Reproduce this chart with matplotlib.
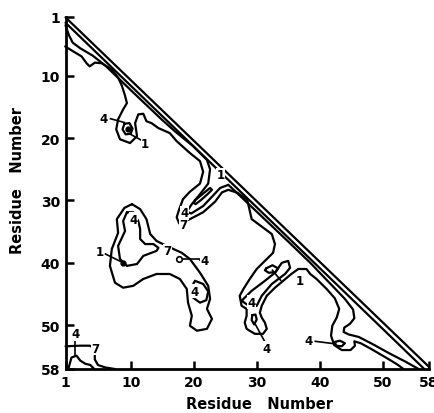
import matplotlib
matplotlib.use("Agg")
import matplotlib.pyplot as plt

# ---------------- data (residue units) ----------------
tick_values_x = [-0.35, 10, 20, 30, 40, 50, 57.35]
tick_values_y = [0.5, 10, 20, 30, 40, 50, 57.04]
tick_labels = ['1', '10', '20', '30', '40', '50', '58']

diag_x = [-0.35, 57.35]
diag_y = [0.64, 56.7]

line_b_x = [-0.35, 56.6]
line_b_y = [1.5, 57.04]

line_c_x = [-0.35, 0.2, 0.8, 2.0, 4.0, 6.0, 10.0, 15.0, 17.0, 19.9, 22.1, 22.6, 22.3, 21.0,
            19.7, 18.9, 19.6, 21.5, 23.0, 24.2, 25.5, 30.0, 35.0, 38.5, 40.1, 42.3, 44.0,
            45.3, 45.5, 44.8, 43.9, 43.8, 44.6, 46.2, 48.5, 51.0, 53.5, 55.7]
line_c_y = [1.9, 3.5, 4.7, 5.6, 6.8, 8.4, 12.3, 17.1, 18.9, 21.3, 23.5, 25.0, 27.3, 29.0,
            30.6, 31.8, 32.1, 30.9, 29.3, 28.0, 27.5, 31.8, 36.6, 40.0, 41.7, 44.0, 45.8,
            47.5, 48.9, 49.8, 50.4, 51.1, 51.5, 51.9, 53.1, 54.5, 55.8, 57.04]

line_d_x = [-0.4, 0.4, 2.2, 3.0, 3.5, 4.3, 5.4, 7.0, 8.0, 8.6, 9.1, 9.4, 8.8, 8.0, 7.7, 8.3,
            9.9, 11.0, 10.7, 11.2, 12.0, 12.5, 13.3, 14.4, 16.2, 17.3, 19.4, 21.0, 21.5, 21.0,
            19.4, 18.3, 17.7, 17.3, 17.7, 19.4, 21.5, 23.4, 24.5, 25.5, 27.0, 28.5, 29.2, 32.4,
            32.9, 32.6, 31.6, 30.0, 28.9, 27.9, 27.3, 27.6, 28.4, 28.4, 28.1, 28.4, 29.7, 31.0,
            31.6, 31.3, 30.8, 30.5, 30.8, 31.6, 32.9, 34.2, 35.5, 36.6, 37.9, 38.5, 39.5, 41.1,
            42.4, 43.1, 42.7, 42.0, 41.8, 42.3, 43.5, 44.9, 45.6, 45.5, 46.5, 48.3, 50.5, 52.3,
            53.3]
line_d_y = [5.3, 5.8, 6.9, 8.0, 8.5, 7.9, 8.0, 9.0, 10.3, 11.6, 13.2, 14.4, 15.4, 17.0, 18.6,
            20.2, 20.8, 19.7, 17.6, 16.2, 16.1, 17.3, 17.6, 18.4, 19.2, 20.5, 22.4, 23.7, 25.4,
            27.3, 28.6, 29.8, 31.4, 32.7, 33.7, 33.0, 31.9, 30.2, 28.7, 28.3, 28.8, 29.9, 33.0,
            35.4, 37.0, 38.4, 39.4, 41.0, 42.6, 44.2, 45.3, 46.9, 47.4, 48.5, 49.6, 50.6, 51.4,
            51.4, 50.6, 49.6, 48.8, 48.0, 46.9, 45.3, 44.0, 42.9, 41.8, 41.0, 41.0, 41.8, 42.6,
            44.2, 45.7, 47.4, 48.8, 50.1, 51.7, 53.2, 54.0, 54.0, 53.3, 52.6, 52.9, 53.9, 55.2,
            56.3, 57.04]

# inner "1" ring of the residue 10/18 contact
ring18_x = [9.0, 9.8, 10.3, 10.0, 9.2, 8.7, 9.0]
ring18_y = [17.7, 17.6, 18.5, 19.3, 19.4, 18.6, 17.7]

# inner loop in the 20/30 hairpin finger
hair_x = [20.2, 21.5, 22.6, 22.9, 22.3, 21.2, 20.3, 20.0, 20.2]
hair_y = [30.0, 28.9, 28.0, 28.3, 28.9, 29.9, 30.6, 30.4, 30.0]

# big left contact region (residues 5-25 vs 30-50), contour "7"
left7_x = [10.2, 11.5, 12.5, 13.1, 14.1, 15.7, 18.1, 19.4, 21.0, 22.3, 22.6, 22.1, 22.9,
           22.1, 20.5, 19.4, 19.7, 19.1, 18.9, 17.8, 16.2, 14.1, 12.0, 10.4, 8.8, 7.5, 6.7,
           7.0, 8.0, 7.8, 9.0, 10.2]
left7_y = [30.6, 31.4, 33.0, 35.4, 36.5, 37.3, 38.4, 39.4, 41.6, 43.7, 45.8, 47.4, 49.0,
           50.6, 50.9, 50.1, 48.5, 46.4, 44.2, 42.6, 41.8, 41.8, 42.6, 43.7, 44.0, 43.2, 40.5,
           37.8, 35.2, 33.0, 31.2, 30.6]
left4_x = [9.4, 8.8, 9.1, 8.6, 8.0, 8.3, 9.4, 11.0, 12.0, 13.3, 14.1, 14.4, 13.6, 12.3,
           11.5, 11.5, 11.2, 10.4, 9.4]
left4_y = [31.9, 33.3, 34.9, 36.0, 37.3, 39.4, 40.5, 40.2, 38.9, 38.4, 38.1, 37.6, 37.0,
           37.0, 36.2, 34.6, 33.3, 31.9, 31.9]
low4_x = [20.2, 21.5, 22.3, 22.0, 21.0, 19.9, 19.6, 20.2]
low4_y = [42.9, 43.4, 44.6, 46.0, 46.4, 45.6, 44.0, 42.9]

# right contact region inner contours
right4_x = [27.6, 29.2, 31.3, 32.9, 34.0, 35.0, 35.3, 34.5, 32.4, 30.8, 30.0, 29.2, 27.6]
right4_y = [46.1, 44.5, 42.9, 41.6, 40.0, 39.7, 40.8, 41.8, 43.4, 45.3, 46.9, 47.2, 46.1]
right1_x = [31.5, 32.5, 33.4, 33.0, 31.9, 31.3, 31.5]
right1_y = [40.9, 40.4, 40.9, 41.5, 41.6, 41.2, 40.9]
small0_x = [29.3, 29.8, 30.0, 29.6, 29.2, 29.3]
small0_y = [48.4, 48.3, 49.1, 49.9, 49.2, 48.4]
small_e_x = [42.4, 43.2, 44.0, 43.5, 42.6, 42.4]
small_e_y = [52.7, 52.5, 52.9, 53.4, 53.3, 52.7]

# bottom-left corner contours
corner7_x = [-0.35, 2.0, 3.5, 4.0, 4.3, 4.3, 4.8, 6.0, 7.5]
corner7_y = [53.4, 53.3, 53.3, 53.6, 54.5, 55.5, 56.4, 56.8, 57.04]
corner4_x = [0.1, 0.6, 1.4, 2.0, 2.8, 3.6, 4.2]
corner4_y = [57.04, 55.2, 54.9, 55.7, 56.2, 56.4, 57.04]

# contour labels: (text, x, y)
label_text = ['4', '1', '1', '4', '7', '1', '4', '7', '4', '4', '1', '4', '4', '4', '4', '7']
label_x = [5.7, 12.3, 24.3, 18.6, 18.4, 5.1, 10.4, 15.8, 21.8, 20.2, 36.8, 29.2, 31.6, 38.2, 1.2, 4.4]
label_y = [16.8, 20.8, 25.9, 32.0, 33.9, 38.2, 33.0, 38.1, 39.6, 44.6, 42.9, 46.3, 53.7, 52.5, 51.4, 53.7]
leader_x0 = [6.8, 9.8, 6.0, 17.7, 22.5, 33.8, 29.8, 39.3, 1.2]
leader_y0 = [16.9, 19.3, 38.6, 39.4, 39.6, 42.8, 49.9, 52.6, 52.3]
leader_x1 = [9.0, 11.8, 8.8, 21.0, 21.0, 32.5, 31.2, 42.4, 1.2]
leader_y1 = [17.5, 20.4, 40.0, 39.4, 39.6, 41.2, 52.5, 53.0, 54.8]

dots_x = [9.6, 8.8]
dots_y = [18.5, 40.0]
open_dot_x = [17.7]
open_dot_y = [39.4]

# ---------------- drawing ----------------
fig = plt.figure(figsize=(4.35, 4.14), dpi=100)
ax = fig.add_axes([65.5 / 435, 44 / 414, (429 - 65.5) / 435, (370 - 17.5) / 414])
ax.set_xlim(tick_values_x[0], tick_values_x[-1])
ax.set_ylim(57.04, 0.64)

lw = 1.6
kw = dict(color='black', lw=lw, solid_joinstyle='round', solid_capstyle='round')
for xs, ys in [(diag_x, diag_y), (line_b_x, line_b_y), (line_c_x, line_c_y),
               (line_d_x, line_d_y), (ring18_x, ring18_y), (hair_x, hair_y),
               (left7_x, left7_y), (left4_x, left4_y), (low4_x, low4_y),
               (right4_x, right4_y), (right1_x, right1_y), (small0_x, small0_y),
               (small_e_x, small_e_y), (corner7_x, corner7_y), (corner4_x, corner4_y)]:
    ax.plot(xs, ys, clip_on=False, **kw)

for x0, y0, x1, y1 in zip(leader_x0, leader_y0, leader_x1, leader_y1):
    ax.plot([x0, x1], [y0, y1], color='black', lw=1.2)
ax.plot(dots_x, dots_y, 'o', color='black', ms=3.5)
ax.plot(open_dot_x, open_dot_y, 'o', mfc='white', mec='black', ms=4, mew=1.2)

for t, x, y in zip(label_text, label_x, label_y):
    ax.text(x, y, t, ha='center', va='center', fontsize=8.5, fontweight='bold',
            family='DejaVu Sans', bbox=dict(fc='white', ec='none', pad=0.3))

for s in ['top', 'right']:
    ax.spines[s].set_visible(False)
for s in ['left', 'bottom']:
    ax.spines[s].set_linewidth(2.0)

ax.set_xticks(tick_values_x)
ax.set_xticklabels(tick_labels)
ax.set_yticks(tick_values_y)
ax.set_yticklabels(tick_labels)
ax.tick_params(direction='in', length=6, width=1.8, labelsize=10, pad=4)
for lab in ax.get_xticklabels() + ax.get_yticklabels():
    lab.set_fontweight('bold')

fig.text(260 / 435, 1 - 405 / 414, 'Residue   Number', ha='center', va='center',
         fontsize=10.5, fontweight='bold')
fig.text(18 / 435, 1 - 181 / 414, 'Residue   Number', ha='center', va='center',
         rotation=90, fontsize=10.5, fontweight='bold')

fig.savefig('out.png', dpi=100)
